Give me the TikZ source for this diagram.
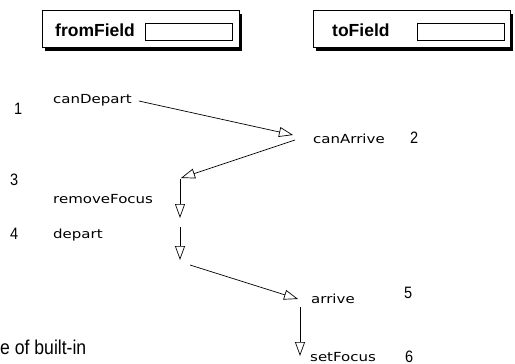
\documentclass[tikz,border=0pt]{standalone}
\usepackage{fontspec}
\setmainfont{Liberation Sans}
\newfontfamily\callfont[FakeStretch=1.2]{DejaVu Sans}
\newfontfamily\narrowfont[FakeStretch=0.88]{Liberation Sans}
\usetikzlibrary{arrows.meta,shadows,calc}
\begin{document}
\begin{tikzpicture}[x=1pt,y=-1pt,
  fieldbox/.style={draw,line width=0.8pt,fill=white,minimum width=197pt,minimum height=37pt,inner sep=0,
    drop shadow={shadow xshift=3pt,shadow yshift=-3.5pt,fill=black,opacity=1}},
  inputbox/.style={draw,line width=0.7pt,fill=white,minimum width=87pt,minimum height=17pt,inner sep=0},
  fieldlabel/.style={font=\fontsize{17.5}{17.5}\selectfont\bfseries,inner sep=0,anchor=base west},
  call/.style={font=\callfont\fontsize{12.5}{12.5}\selectfont,inner sep=0,anchor=base west},
  num/.style={font=\narrowfont\fontsize{16.5}{16.5}\selectfont,inner sep=0,anchor=base west},
  flow/.style={line width=0.7pt,-{Triangle[open,length=14pt,width=10pt,line width=0.7pt]}}]
\useasboundingbox (0,0) rectangle (515,364);

% field boxes
\node[fieldbox] (fromBox) at (140.5,28.5) {};
\node[inputbox] (fromInput) at (188.5,31.5) {};
\node[fieldlabel] (fromLabel) at (55,37) {fromField};
\node[fieldbox] (toBox) at (411.5,29) {};
\node[inputbox] (toInput) at (461,31.5) {};
\node[fieldlabel] (toLabel) at (332,37) {toField};

% calls
\node[call] (canDepart) at (53,103) {canDepart};
\node[call] (canArrive) at (313,143) {canArrive};
\node[call] (removeFocus) at (53,203) {removeFocus};
\node[call] (depart) at (53,238) {depart};
\node[call] (arrive) at (311,303) {arrive};
\node[call] (setFocus) at (310,361) {setFocus};

% numbers
\node[num] (n1) at (14,114) {1};
\node[num] (n2) at (410,143) {2};
\node[num] (n3) at (10,185) {3};
\node[num] (n4) at (10,239) {4};
\node[num] (n5) at (404,298) {5};
\node[num] (n6) at (405,362) {6};

\node[font=\narrowfont\fontsize{20}{20}\selectfont,inner sep=0,anchor=base west] (caption) at (0,354) {e of built-in};

% connectors
\coordinate (departOut) at ($(depart.base west)+(127,22)$);
\draw[flow] ($(canDepart.base east)+(7,-2)$) -- ($(canArrive.base west)+(-20,-8)$);
\draw[flow] ($(canArrive.base west)+(-18,-3)$) -- ($(removeFocus.base west)+(128,-25)$);
\draw[flow] ($(removeFocus.base west)+(127,-24)$) -- ($(depart.base west)+(127,-20)$);
\draw[flow] ($(depart.base west)+(127,-11)$) -- (departOut);
\draw[flow] ($(departOut)+(10,5)$) -- ($(arrive.base west)+(-13,-4)$);
\draw[flow] ($(arrive.base west)+(-11,4)$) -- ($(setFocus.base west)+(-10,-5)$);
\end{tikzpicture}
\end{document}
